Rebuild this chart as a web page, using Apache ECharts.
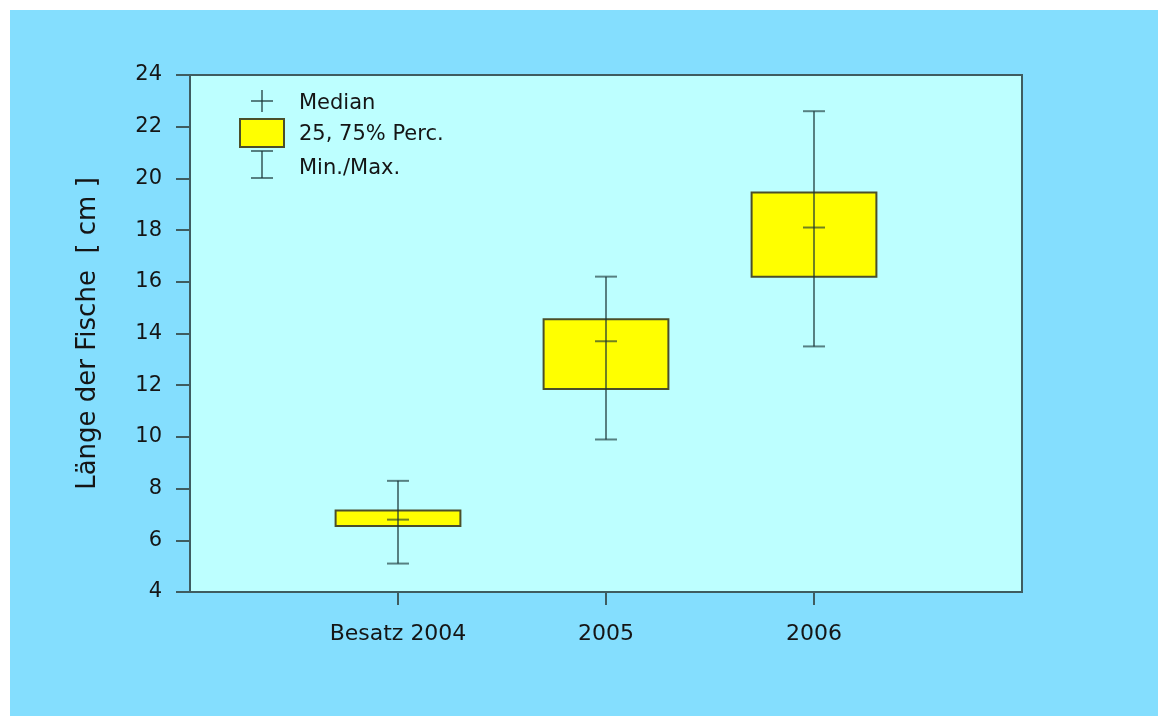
<!DOCTYPE html>
<html>
<head>
<meta charset="utf-8">
<script src="https://cdn.jsdelivr.net/npm/echarts/dist/echarts.min.js"></script>
<style>
  html, body { margin: 0; padding: 0; background: #ffffff; width: 1158px; height: 716px; overflow: hidden; }
  #chart { position: absolute; left: 10px; top: 10px; width: 1148px; height: 706px; }
</style>
</head>
<body>
<div id="chart"></div>
<script>
// ---- data ----
const categories = ['Besatz 2004', '2005', '2006'];
const minValues    = [5.1, 9.9, 13.5];
const q1Values     = [6.55, 11.85, 16.2];
const medianValues = [6.8, 13.7, 18.1];
const q3Values     = [7.15, 14.55, 19.45];
const maxValues    = [8.3, 16.2, 22.6];
const yTicks = [4, 6, 8, 10, 12, 14, 16, 18, 20, 22, 24];
const legendLabels = ['Median', '25, 75% Perc.', 'Min./Max.'];
const yAxisTitle = 'Länge der Fische  [ cm ]';

// ---- build ----
const FONT = 'DejaVu Sans';
const TXT = '#151515';
const AX = '#3f5c60';
const WHISK = 'rgba(25,50,52,0.62)';
const seriesData = categories.map((c, i) => [i + 1, minValues[i], q1Values[i], medianValues[i], q3Values[i], maxValues[i]]);
const xPositions = categories.map((c, i) => i + 1);

const boxHalf = 0.3;
const capHalf = 11;

function renderItem(params, api) {
  const x = api.value(0);
  const mn = api.value(1), q1 = api.value(2), md = api.value(3), q3 = api.value(4), mx = api.value(5);
  const tl = api.coord([x - boxHalf, q3]);
  const br = api.coord([x + boxHalf, q1]);
  const pMin = api.coord([x, mn]);
  const pMax = api.coord([x, mx]);
  const pMd = api.coord([x, md]);
  return {
    type: 'group',
    children: [
      { type: 'rect', shape: { x: tl[0], y: tl[1], width: br[0] - tl[0], height: br[1] - tl[1] },
        style: { fill: '#ffff00', stroke: '#4b4f2a', lineWidth: 2 } },
      { type: 'line', shape: { x1: pMin[0], y1: pMin[1], x2: pMax[0], y2: pMax[1] },
        style: { stroke: WHISK, lineWidth: 2 } },
      { type: 'line', shape: { x1: pMax[0] - capHalf, y1: pMax[1], x2: pMax[0] + capHalf, y2: pMax[1] },
        style: { stroke: WHISK, lineWidth: 2 } },
      { type: 'line', shape: { x1: pMin[0] - capHalf, y1: pMin[1], x2: pMin[0] + capHalf, y2: pMin[1] },
        style: { stroke: WHISK, lineWidth: 2 } },
      { type: 'line', shape: { x1: pMd[0] - capHalf, y1: pMd[1], x2: pMd[0] + capHalf, y2: pMd[1] },
        style: { stroke: WHISK, lineWidth: 2 } }
    ]
  };
}

const chart = echarts.init(document.getElementById('chart'), null, { renderer: 'canvas' });
const legX = 252, legTextX = 289;
chart.setOption({
  backgroundColor: '#84defe',
  animation: false,
  grid: {
    left: 180, right: 136, top: 65, bottom: 124,
    show: true, backgroundColor: '#bdffff', borderColor: AX, borderWidth: 2
  },
  xAxis: {
    type: 'value', min: 0, max: 4, interval: 1,
    axisLine: { show: true, lineStyle: { color: AX, width: 2 } },
    axisTick: { show: true, length: 13, lineStyle: { color: AX, width: 2 }, customValues: xPositions },
    axisLabel: {
      customValues: xPositions,
      formatter: v => categories[v - 1] || '',
      color: TXT, fontFamily: FONT, fontSize: 22, margin: 31
    },
    splitLine: { show: false }
  },
  yAxis: {
    type: 'value', min: yTicks[0], max: yTicks[yTicks.length - 1], interval: yTicks[1] - yTicks[0],
    name: yAxisTitle, nameLocation: 'middle', nameGap: 89,
    nameTextStyle: { color: TXT, fontFamily: FONT, fontSize: 26 },
    axisLine: { show: true, lineStyle: { color: AX, width: 2 } },
    axisTick: { show: true, length: 14, lineStyle: { color: AX, width: 2 } },
    axisLabel: { color: TXT, fontFamily: FONT, fontSize: 21, margin: 28 },
    splitLine: { show: false }
  },
  series: [{
    type: 'custom',
    renderItem: renderItem,
    data: seriesData,
    encode: { x: 0, y: [1, 2, 3, 4, 5] },
    clip: false
  }],
  graphic: [
    // Median legend icon
    { type: 'line', shape: { x1: legX - 11, y1: 91, x2: legX + 11, y2: 91 }, style: { stroke: WHISK, lineWidth: 2 } },
    { type: 'line', shape: { x1: legX, y1: 80, x2: legX, y2: 102 }, style: { stroke: WHISK, lineWidth: 2 } },
    { type: 'text', left: legTextX, top: 83, style: { text: legendLabels[0], fill: TXT, font: '21px "DejaVu Sans"' } },
    // Box legend icon
    { type: 'rect', shape: { x: 230, y: 109, width: 44, height: 28 }, style: { fill: '#ffff00', stroke: '#4b4f2a', lineWidth: 2 } },
    { type: 'text', left: legTextX, top: 114, style: { text: legendLabels[1], fill: TXT, font: '21px "DejaVu Sans"' } },
    // Min/Max legend icon
    { type: 'line', shape: { x1: legX - 11, y1: 141, x2: legX + 11, y2: 141 }, style: { stroke: WHISK, lineWidth: 2 } },
    { type: 'line', shape: { x1: legX, y1: 141, x2: legX, y2: 168 }, style: { stroke: WHISK, lineWidth: 2 } },
    { type: 'line', shape: { x1: legX - 11, y1: 168, x2: legX + 11, y2: 168 }, style: { stroke: WHISK, lineWidth: 2 } },
    { type: 'text', left: legTextX, top: 148, style: { text: legendLabels[2], fill: TXT, font: '21px "DejaVu Sans"' } }
  ]
});
</script>
</body>
</html>
